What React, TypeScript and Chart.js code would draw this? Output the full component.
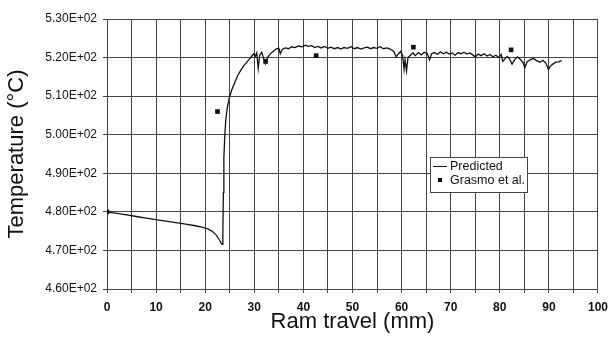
import React, { useEffect, useRef } from "react";
import { Chart, registerables } from "chart.js";

Chart.register(...registerables);

const predX: number[] = [
  0, 2, 4, 6, 8, 10, 12, 14, 16, 18, 19.5, 20.5, 21.5, 22.3, 22.9, 23.3, 23.5, 23.6, 23.7, 23.8,
  24.0, 24.2, 24.5, 24.9, 25.4, 26.0, 26.6, 27.2, 27.8, 28.4, 29.0, 29.5, 29.9, 30.2, 30.5, 30.8,
  31.1, 31.5, 31.9, 32.3, 32.7, 33.2, 33.8, 34.4, 35.0, 35.3, 35.7, 36.3, 37.0, 37.6, 38.3, 39.0,
  39.7, 40.4, 41.0, 41.7, 42.3, 43.0, 43.6, 44.3, 45.0, 45.6, 46.3, 47.0, 47.6, 48.3, 49.0, 49.7,
  50.4, 51.0, 51.7, 52.4, 53.0, 53.7, 54.3, 55.0, 55.6, 56.3, 57.0, 57.7, 58.4, 58.9, 59.4, 59.8,
  60.2, 60.5, 60.7, 61.0, 61.3, 61.8, 62.3, 62.8, 63.4, 64.0, 64.6, 65.2, 65.7, 66.1, 66.7, 67.3,
  67.9, 68.5, 69.1, 69.7, 70.3, 70.9, 71.5, 72.1, 72.7, 73.3, 73.9, 74.5, 75.0, 75.6, 76.2, 76.8,
  77.4, 78.0, 78.6, 79.2, 79.8, 80.3, 80.6, 81.0, 81.5, 82.0, 82.5, 83.0, 83.6, 84.2, 84.7, 85.1,
  85.6, 86.2, 86.8, 87.5, 88.2, 88.8, 89.4, 89.9, 90.3, 90.8, 91.4, 92.0, 92.6,
];

const predY: number[] = [
  480, 479.6, 479.2, 478.8, 478.4, 478.0, 477.6, 477.2, 476.8, 476.4, 476.0, 475.6, 474.9, 473.9, 472.7, 471.8, 471.6, 475, 485, 494,
  500, 504, 507, 509.5, 511.6, 513.5, 515.3, 516.6, 517.8, 518.7, 519.6, 520.4, 521.0, 520.3, 521.2, 517.2,
  520.6, 521.4, 519.8, 518.4, 520.0, 520.9, 521.6, 522.2, 522.4, 521.0, 522.1, 522.5, 522.3, 522.8, 522.6, 523.0,
  522.8, 523.2, 522.9, 523.1, 522.6, 522.9, 522.5, 522.9, 522.4, 522.7, 522.3, 522.6, 522.2, 522.6, 522.4, 522.8,
  522.3, 522.6, 522.2, 522.5, 522.7, 522.3, 522.6, 522.4, 522.8, 522.3, 522.5, 522.2, 521.6, 520.2, 521.0, 521.6,
  520.6, 517.0, 519.4, 516.5, 520.0, 520.6, 521.2, 520.5, 521.3, 520.7, 521.4, 521.1, 519.4, 521.0, 521.3, 520.8,
  521.5, 521.0, 521.4, 520.9, 521.2, 520.6, 521.3, 521.0, 521.4, 520.9, 521.2, 520.7, 520.2, 520.9, 520.5, 521.0,
  520.4, 520.8, 520.2, 520.6, 520.0, 520.8, 519.0, 519.6, 520.3, 519.6, 518.3, 519.4, 520.2, 519.5, 518.8, 517.4,
  519.0, 519.4, 519.8, 519.2, 518.8, 519.3, 518.5, 516.9, 517.8, 518.3, 518.8, 518.9, 519.2,
];

const grasmoX: number[] = [0, 22.5, 32.3, 42.6, 62.4, 82.3];
const grasmoY: number[] = [480, 506, 519, 520.5, 522.7, 522];

const seriesNames: string[] = ["Predicted", "Grasmo et al."];
const xTitle = "Ram travel (mm)";
const yTitle = "Temperature (°C)";

const FONT = "'Liberation Sans', Arial, Helvetica, sans-serif";

function fmtExp(v: number): string {
  const s = v.toExponential(2).toUpperCase();
  const [m, e] = s.split("E");
  const sign = e[0] === "-" ? "-" : "+";
  const d = e.replace(/[+-]/, "").padStart(2, "0");
  return `${m}E${sign}${d}`;
}

const legendPlugin = {
  id: "boxLegend",
  afterDraw(chart: any) {
    const ctx = chart.ctx;
    const x = 430, y = 157, w = 97, h = 35;
    ctx.save();
    ctx.fillStyle = "#fff";
    ctx.fillRect(x, y, w, h);
    ctx.strokeStyle = "#444";
    ctx.lineWidth = 1;
    ctx.strokeRect(x + 0.5, y + 0.5, w, h);
    ctx.font = `12.5px ${FONT}`;
    ctx.fillStyle = "#111";
    ctx.textBaseline = "middle";
    ctx.beginPath();
    ctx.strokeStyle = "#111";
    ctx.moveTo(x + 3, y + 9.5);
    ctx.lineTo(x + 17, y + 9.5);
    ctx.stroke();
    ctx.fillText(seriesNames[0], x + 20, y + 10);
    ctx.fillRect(x + 8, y + 21, 4, 4);
    ctx.fillText(seriesNames[1], x + 20, y + 24);
    ctx.restore();
  },
};

export default function App() {
  const ref = useRef<HTMLCanvasElement>(null);
  useEffect(() => {
    document.body.style.margin = "0";
    const canvas = ref.current!;
    const chart = new Chart(canvas, {
      type: "scatter",
      data: {
        datasets: [
          {
            label: seriesNames[0],
            data: predX.map((x, i) => ({ x, y: predY[i] })),
            showLine: true,
            borderColor: "#111",
            borderWidth: 1.3,
            pointRadius: 0,
            tension: 0,
          },
          {
            label: seriesNames[1],
            data: grasmoX.map((x, i) => ({ x, y: grasmoY[i] })),
            showLine: false,
            pointStyle: "rect",
            pointRadius: 3.3,
            backgroundColor: "#111",
            borderColor: "#111",
            borderWidth: 0,
          },
        ],
      },
      options: {
        animation: false,
        responsive: false,
        layout: { padding: { top: 19, right: 10, left: 0, bottom: 0 } },
        plugins: { legend: { display: false }, tooltip: { enabled: false } },
        scales: {
          x: {
            type: "linear",
            min: 0,
            max: 100,
            afterFit: (s: any) => { s.height = 49; },
            ticks: {
              stepSize: 5,
              autoSkip: false,
              maxRotation: 0,
              padding: 7,
              color: "#111",
              font: { family: FONT, size: 12, weight: "bold" },
              callback: (v: any) => (Number(v) % 10 === 0 ? String(v) : ""),
            },
            grid: { color: "#444", lineWidth: 1, tickLength: 4, tickColor: "#444" },
            border: { color: "#444" },
            title: {
              display: true,
              text: xTitle,
              color: "#111",
              font: { family: FONT, size: 22 },
              padding: { top: 0, bottom: 3 },
            },
          },
          y: {
            type: "linear",
            min: 460,
            max: 530,
            afterFit: (s: any) => { s.width = 107; },
            ticks: {
              stepSize: 10,
              padding: 6,
              color: "#111",
              font: { family: FONT, size: 12 },
              callback: (v: any) => fmtExp(Number(v)),
            },
            grid: { color: "#444", lineWidth: 1, tickLength: 4, tickColor: "#444" },
            border: { color: "#444" },
            title: {
              display: true,
              text: yTitle,
              color: "#111",
              font: { family: FONT, size: 22 },
              padding: { top: 4, bottom: 0 },
            },
          },
        },
      },
      plugins: [legendPlugin],
    });
    return () => chart.destroy();
  }, []);
  return (
    <div style={{ width: 615, height: 338, background: "#fff" }}>
      <canvas ref={ref} width={615} height={338} style={{ display: "block" }} />
    </div>
  );
}
